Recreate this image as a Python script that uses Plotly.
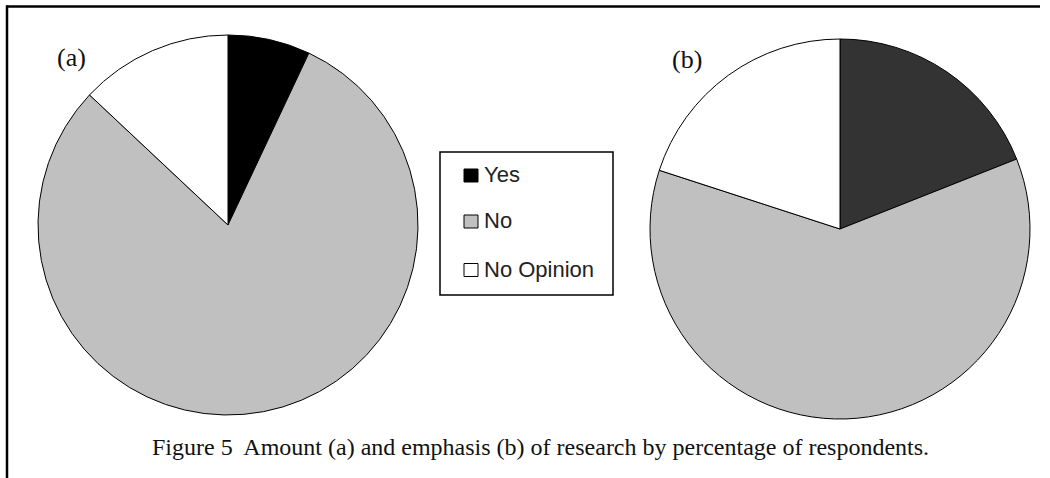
import plotly.graph_objects as go

W, H = 1050, 478

categories = ["Yes", "No", "No Opinion"]
values_a = [7, 80, 13]
values_b = [19, 61, 20]
colors_a = ["#000000", "#c0c0c0", "#ffffff"]
colors_b = ["#333333", "#c0c0c0", "#ffffff"]
legend_colors = ["#000000", "#c0c0c0", "#ffffff"]
panel_labels = ["(a)", "(b)"]
caption = "Figure 5  Amount (a) and emphasis (b) of research by percentage of respondents."


def px(x):
    return x / W


def py(y):
    return 1 - y / H


fig = go.Figure()

# pie (a): centre (228,225) r 190 ; pie (b): centre (840,229) r 190
for vals, cols, (cx, cy) in [(values_a, colors_a, (228, 225)), (values_b, colors_b, (840, 229))]:
    r = 190
    fig.add_trace(go.Pie(
        labels=categories, values=vals, sort=False, direction="clockwise", rotation=0,
        marker=dict(colors=cols, line=dict(color="#000000", width=1)),
        textinfo="none", hoverinfo="label+percent", showlegend=False,
        domain=dict(x=[px(cx - r), px(cx + r)], y=[py(cy + r), py(cy - r)]),
    ))

shapes = [
    # frame lines
    dict(type="line", xref="paper", yref="paper", x0=px(6), x1=px(1040), y0=py(6.5), y1=py(6.5),
         line=dict(color="#000000", width=2.5)),
    dict(type="line", xref="paper", yref="paper", x0=px(7), x1=px(7), y0=py(5.5), y1=py(478),
         line=dict(color="#000000", width=2.5)),
    # legend box
    dict(type="rect", xref="paper", yref="paper", x0=px(440), x1=px(613), y0=py(152), y1=py(295),
         line=dict(color="#000000", width=1.5), fillcolor="#ffffff"),
]
annotations = []
legend_rows_y = [175.5, 221.5, 270]
for lab, col, yy in zip(categories, legend_colors, legend_rows_y):
    shapes.append(dict(type="rect", xref="paper", yref="paper", x0=px(464), x1=px(478),
                       y0=py(yy - 6.5), y1=py(yy + 6.5),
                       line=dict(color="#000000", width=1), fillcolor=col))
    annotations.append(dict(text=lab, xref="paper", yref="paper", x=px(482), y=py(yy - 1),
                            xanchor="left", yanchor="middle", showarrow=False,
                            font=dict(family="Liberation Sans, Arial", size=22, color="#222222")))

for lab, (x, y) in zip(panel_labels, [(71, 57), (687, 59)]):
    annotations.append(dict(text=lab, xref="paper", yref="paper", x=px(x), y=py(y),
                            xanchor="center", yanchor="middle", showarrow=False,
                            font=dict(family="Liberation Serif, Times New Roman", size=26, color="#111111")))

annotations.append(dict(text=caption, xref="paper", yref="paper", x=px(540), y=py(447),
                        xanchor="center", yanchor="middle", showarrow=False,
                        font=dict(family="Liberation Serif, Times New Roman", size=24, color="#111111")))

fig.update_layout(
    width=W, height=H, margin=dict(l=0, r=0, t=0, b=0),
    paper_bgcolor="#ffffff", plot_bgcolor="#ffffff",
    shapes=shapes, annotations=annotations, showlegend=False,
)

fig.write_html("out.html", config={"displayModeBar": False},
               post_script="document.body.style.margin='0';document.body.style.overflow='hidden';")
